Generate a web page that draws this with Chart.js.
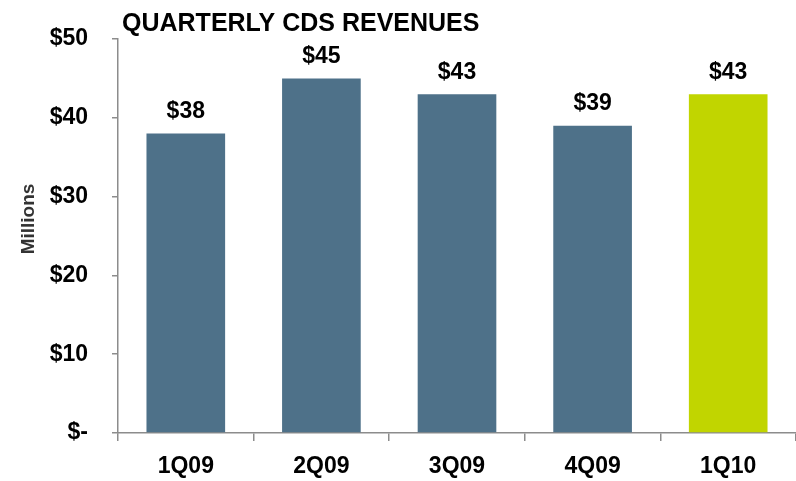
<!DOCTYPE html>
<html>
<head>
<meta charset="utf-8">
<script src="https://cdn.jsdelivr.net/npm/chart.js@4/dist/chart.umd.min.js"></script>
<style>
    html, body { margin: 0; padding: 0; background: #fff; }
    #wrap { width: 796px; height: 481px; position: relative; }
</style>
</head>
<body>
<div id="wrap"><canvas id="chart"></canvas></div>
<script>
const quarters = ['1Q09', '2Q09', '3Q09', '4Q09', '1Q10'];
const revenues = [38, 45, 43, 39, 43];
const barColors = ['#4e7189', '#4e7189', '#4e7189', '#4e7189', '#c1d500'];
const yTicks = [0, 10, 20, 30, 40, 50];

const FONT = '"Liberation Sans", Arial, sans-serif';

// 棒の上に値を表示する
const valueLabels = {
    id: 'valueLabels',
    afterDatasetsDraw(chart) {
        const ctx = chart.ctx;
        const meta = chart.getDatasetMeta(0);
        ctx.save();
        ctx.font = `bold 23px ${FONT}`;
        ctx.fillStyle = '#000';
        ctx.textAlign = 'center';
        ctx.textBaseline = 'middle';
        meta.data.forEach((bar, i) => {
            ctx.fillText('$' + revenues[i], bar.x, bar.y - 22);
        });
        ctx.restore();
    }
};

// タイトルと縦軸の単位ラベル
const chartTexts = {
    id: 'chartTexts',
    afterDraw(chart) {
        const ctx = chart.ctx;
        ctx.save();
        ctx.font = `bold 25px ${FONT}`;
        ctx.fillStyle = '#000';
        ctx.textAlign = 'left';
        ctx.textBaseline = 'middle';
        ctx.fillText('QUARTERLY CDS REVENUES', 122, 24);

        ctx.translate(29, 219);
        ctx.rotate(-Math.PI / 2);
        ctx.font = `bold 19px ${FONT}`;
        ctx.fillStyle = '#333';
        ctx.textAlign = 'center';
        ctx.fillText('Millions', 0, 0);
        ctx.restore();
    }
};

new Chart(document.getElementById('chart'), {
    type: 'bar',
    data: {
        labels: quarters,
        datasets: [{
            data: revenues,
            backgroundColor: barColors,
            borderWidth: 0,
            barPercentage: 0.58,
            categoryPercentage: 1.0
        }]
    },
    options: {
        responsive: true,
        maintainAspectRatio: false,
        animation: false,
        layout: { padding: { top: 39, right: 0, bottom: 0, left: 0 } },
        plugins: {
            legend: { display: false },
            tooltip: { enabled: false }
        },
        scales: {
            x: {
                afterFit(scale) {
                    scale.height = 48;
                },
                grid: {
                    drawOnChartArea: false,
                    drawTicks: true,
                    tickLength: 8,
                    color: '#8c8c8c',
                    lineWidth: 1.5
                },
                border: { color: '#8c8c8c', width: 1.5 },
                ticks: {
                    color: '#000',
                    font: { family: FONT, size: 23, weight: 'bold' },
                    padding: 12
                }
            },
            y: {
                min: 0,
                max: 50,
                afterBuildTicks(scale) {
                    scale.ticks = yTicks.map(v => ({ value: v }));
                },
                afterFit(scale) {
                    scale.width = 118;
                },
                grid: {
                    drawOnChartArea: false,
                    drawTicks: true,
                    tickLength: 6,
                    color: '#8c8c8c',
                    lineWidth: 1.5
                },
                border: { color: '#8c8c8c', width: 1.5 },
                ticks: {
                    color: '#000',
                    font: { family: FONT, size: 23, weight: 'bold' },
                    padding: 24,
                    callback: v => v === 0 ? '$-' : '$' + v
                }
            }
        }
    },
    plugins: [valueLabels, chartTexts]
});
</script>
</body>
</html>
